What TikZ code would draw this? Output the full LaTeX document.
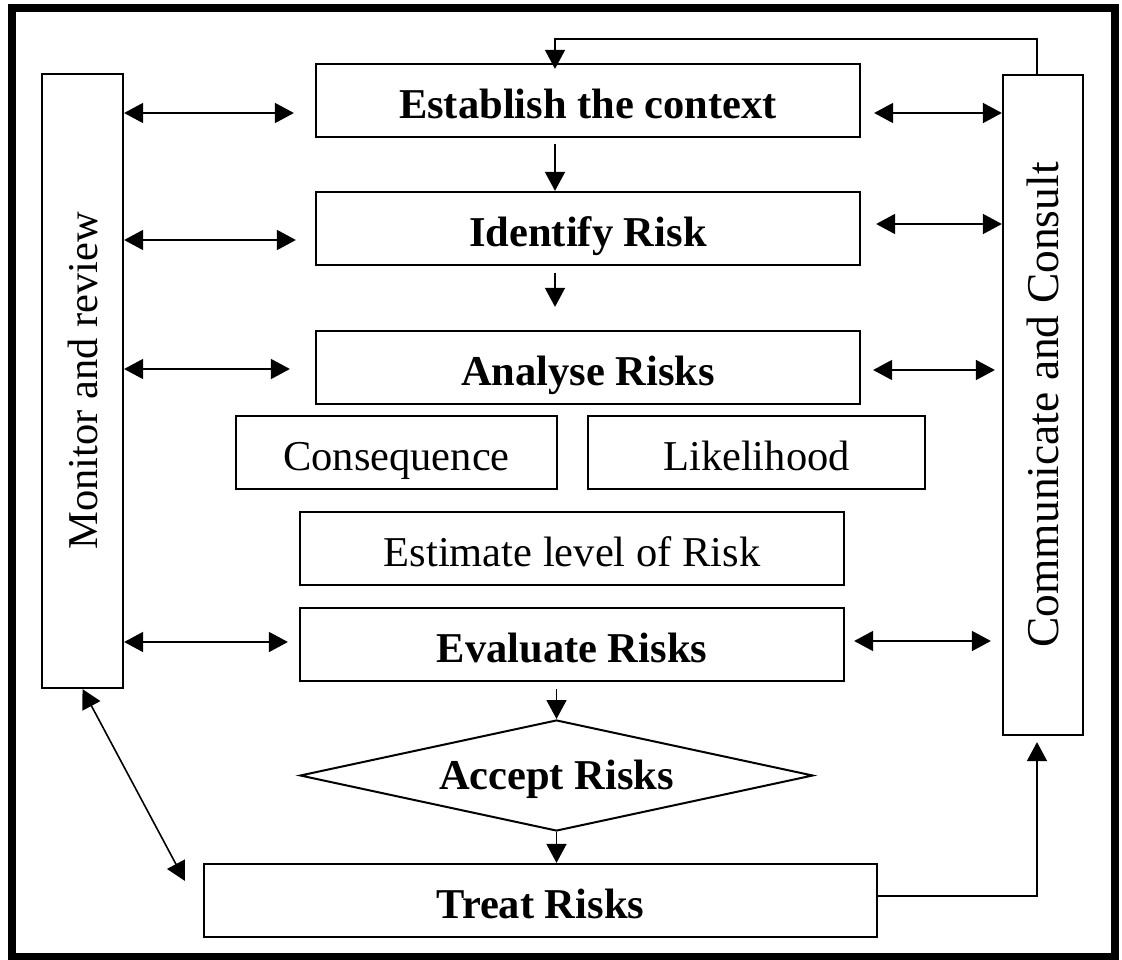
\documentclass[tikz,border=0pt]{standalone}
\usepackage{fontspec}
\setmainfont{Liberation Serif}
\usetikzlibrary{arrows.meta,shapes.geometric,calc}
\begin{document}
\begin{tikzpicture}[x=1pt,y=-1pt,
  every node/.style={font=\fontsize{42.5}{48}\selectfont, inner sep=0pt},
  bold/.style={font=\fontsize{42.5}{48}\selectfont\bfseries},
  box/.style={draw, line width=2.2pt, rectangle, minimum height=73pt,
              text height=36pt, text depth=0pt},
  side/.style={draw, line width=2.2pt, rectangle},
  link/.style={line width=1.6pt, -{Triangle[length=19pt,width=20pt]}},
  both/.style={line width=1.6pt, {Triangle[length=19pt,width=20pt]}-{Triangle[length=19pt,width=20pt]}},
]
\useasboundingbox (0,0) rectangle (1122,960);
% outer frame
\draw[line width=7.5pt] (12,8) rectangle (1115,957);

% side bars
\node[side, minimum width=81pt, minimum height=614pt,
      label={[rotate=90]center:Monitor and review}] (mon) at (82.5,381) {};
\node[side, minimum width=80pt, minimum height=660pt,
      label={[rotate=90, font=\fontsize{45.5}{50}\selectfont]center:Communicate and Consult}] (com) at (1043,405) {};

% process steps
\node[box, bold, minimum width=544pt] (est) at (588,100.5) {Establish the context};
\node[box, bold, minimum width=544pt] (idf) at (588,228.5) {Identify Risk};
\node[box, bold, minimum width=544pt] (ana) at (588,367.5) {Analyse Risks};
\node[box, minimum width=321pt] (cons) at (396.5,452.5) {Consequence};
\node[box, minimum width=337pt] (like) at (756.5,452.5) {Likelihood};
\node[box, minimum width=544pt] (estm) at (572,548.5) {Estimate level of Risk};
\node[box, bold, minimum width=544pt] (eval) at (572,644.5) {Evaluate Risks};
\node[draw, diamond, shape aspect=4.62, line width=2pt, bold, text height=27pt, text depth=0pt,
      minimum width=513pt, minimum height=111pt] (acc) at (556.5,775.5) {Accept Risks};
\node[box, bold, minimum width=673pt] (treat) at (540.5,900.5) {Treat Risks};

% monitor <-> steps
\path (est.west) ++(0,12.5) coordinate (yE);
\path (idf.west) ++(0,11.5) coordinate (yI);
\path (ana.west) ++(0,1.5) coordinate (yA);
\path (eval.west) ++(0,-2.5) coordinate (yV);
\draw[both, shorten >=21pt] (mon.east |- yE) -- (yE);
\draw[both, shorten >=19pt] (mon.east |- yI) -- (yI);
\draw[both, shorten >=25pt] (mon.east |- yA) -- (yA);
\draw[both, shorten >=11pt] (mon.east |- yV) -- (yV);

% steps <-> communicate
\path (est.east) ++(0,12.5) coordinate (zE);
\path (idf.east) ++(0,-4.5) coordinate (zI);
\path (ana.east) ++(0,2.5) coordinate (zA);
\path (eval.east) ++(0,-3.5) coordinate (zV);
\draw[both, shorten <=13pt] (zE) -- (com.west |- zE);
\draw[both, shorten <=15pt] (zI) -- (com.west |- zI);
\draw[both, shorten <=12pt, shorten >=7pt] (zA) -- (com.west |- zA);
\draw[both, shorten <=9pt, shorten >=11pt] (zV) -- (com.west |- zV);

% main flow
\coordinate (vx) at (555,0);
\draw[link, shorten <=6pt] (est.south -| vx) -- (idf.north -| vx);
\draw[link, shorten <=7pt, shorten >=23pt] (idf.south -| vx) -- (ana.north -| vx);
\draw[link, shorten <=7pt] (eval.south -| acc.north) -- (acc.north);
\draw[link] (acc.south) -- (treat.north -| acc.south);

% feedback loops
\draw[link, shorten >=-6pt] ($(com.north)+(-6,0)$) -- ++(0,-35) -| (est.north -| vx);
\draw[link, shorten >=6pt] ($(treat.east)+(0,-4.5)$) -| ($(com.south)+(-6,0)$);
\draw[both] (mon.south) -- ($(treat.north west)+(-18,18)$);
\end{tikzpicture}
\end{document}
